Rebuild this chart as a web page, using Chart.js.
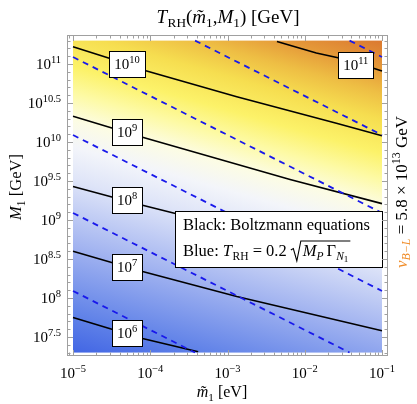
<!DOCTYPE html>
<html><head><meta charset="utf-8">
<script src="https://cdn.jsdelivr.net/npm/chart.js@4/dist/chart.umd.min.js"></script>
<style>html,body{margin:0;padding:0;background:#fff;overflow:hidden}#c{display:block}</style>
</head><body><canvas id="c" width="417" height="404"></canvas>
<script>
// ---------- data (log10 values) ----------
const xLogRange = [-5, -1];          // m1~ [eV]
const yLogRange = [7.3, 11.3];       // M1 [GeV]
const xTickExps = [-5, -4, -3, -2, -1];
const yTickExps = [7.5, 8, 8.5, 9, 9.5, 10, 10.5, 11];
const yTickLabels = ['7.5', '8', '8.5', '9', '9.5', '10', '10.5', '11'];
const contourLevels = [6, 7, 8, 9, 10, 11];

// black contours (Boltzmann equations): [log10 m1~, log10 M1]
const black6  = [[-5, 7.75], [-4.10, 7.48], [-3.38, 7.31]];
const black7  = [[-5, 8.60], [-4.10, 8.34], [-2.88, 8.02], [-1, 7.58]];
const black8  = [[-5, 9.43], [-4.10, 9.19], [-3.70, 9.09], [-2.32, 8.77], [-1, 8.45]];
const black9  = [[-5, 10.33], [-4.10, 10.06], [-2.19, 9.52], [-1, 9.21]];
const black10 = [[-5, 11.22], [-4.52, 11.07], [-4.08, 10.92], [-2.88, 10.58], [-1.59, 10.24], [-1, 10.08]];
const black11 = [[-2.36, 11.29], [-1.85, 11.14], [-1.57, 11.08], [-1.12, 10.95], [-1, 10.91]];
// blue dashed lines T_RH = 0.2 sqrt(M_P Gamma_N1)
const blue6  = [[-5, 8.09], [-3.42, 7.30]];
const blue7  = [[-5, 9.09], [-1.42, 7.30]];
const blue8  = [[-5, 10.09], [-1, 8.09]];
const blue9  = [[-5, 11.09], [-1, 9.09]];
const blue10 = [[-3.42, 11.30], [-1, 10.09]];
const blue11 = [[-1.42, 11.30], [-1, 11.09]];
// contour label anchors
const contourLabelAt = [[-4.30, 7.55], [-4.30, 8.40], [-4.30, 9.26], [-4.30, 10.13], [-4.30, 11.0], [-1.34, 10.99]];
// background (log10 T_RH) colour ramp
const gradLevels = [5.4, 11.5];
const gradAxis = [[-6.04, 7.56], [-4.66, 12.42]];
const colorStops = [
  [5.4, 'rgb(64,100,228)'], [6.0, 'rgb(96,130,232)'], [7.0, 'rgb(160,178,240)'],
  [8.0, 'rgb(222,228,248)'], [8.5, 'rgb(243,245,250)'], [8.9, 'rgb(252,252,228)'],
  [9.3, 'rgb(253,250,165)'], [9.7, 'rgb(252,242,105)'], [10.2, 'rgb(246,222,80)'],
  [10.6, 'rgb(238,190,68)'], [11.0, 'rgb(228,150,56)'], [11.5, 'rgb(216,112,46)']
];

const blackLines = [black6, black7, black8, black9, black10, black11];
const blueLines = [blue6, blue7, blue8, blue9, blue10, blue11];
const toPts = a => a.map(p => ({x: Math.pow(10, p[0]), y: Math.pow(10, p[1])}));

const FAM = '"Liberation Serif","Times New Roman",serif';
function fontFor(r, size) {
  const f = r.s === 1 || r.s === -1 ? 0.7 : (r.s === -2 ? 0.55 : 1);
  return (r.i ? 'italic ' : '') + (size * f).toFixed(1) + 'px ' + FAM;
}
function runsWidth(ctx, runs, size) {
  let w = 0;
  for (const r of runs) { ctx.font = fontFor(r, size); w += ctx.measureText(r.t).width + (r.g || 0); }
  return w;
}
function drawRuns(ctx, runs, x, base, size) {
  for (const r of runs) {
    ctx.font = fontFor(r, size);
    const dy = r.s === -1 ? size * 0.22 : r.s === -2 ? size * 0.38 : r.s === 1 ? -size * 0.4 : 0;
    ctx.fillStyle = r.c || '#000';
    ctx.fillText(r.t, x, base + dy);
    x += ctx.measureText(r.t).width + (r.g || 0);
  }
  return x;
}
function drawCentered(ctx, runs, cx, base, size) {
  const w = runsWidth(ctx, runs, size);
  drawRuns(ctx, runs, cx - w / 2, base, size);
}
function drawRotated(ctx, runs, cx, cy, size) {
  ctx.save();
  ctx.translate(cx, cy);
  ctx.rotate(-Math.PI / 2);
  drawCentered(ctx, runs, 0, size * 0.33, size);
  ctx.restore();
}

const deco = {
  id: 'deco',
  beforeDatasetsDraw(chart) {
    const {ctx, scales: {x, y}} = chart;
    const L = x.getPixelForValue(10 ** xLogRange[0]), R = x.getPixelForValue(10 ** xLogRange[1]);
    const T = y.getPixelForValue(10 ** yLogRange[1]), B = y.getPixelForValue(10 ** yLogRange[0]);
    const g = ctx.createLinearGradient(
      x.getPixelForValue(10 ** gradAxis[0][0]), y.getPixelForValue(10 ** gradAxis[0][1]),
      x.getPixelForValue(10 ** gradAxis[1][0]), y.getPixelForValue(10 ** gradAxis[1][1]));
    for (const [lt, col] of colorStops) g.addColorStop((lt - gradLevels[0]) / (gradLevels[1] - gradLevels[0]), col);
    ctx.save();
    ctx.fillStyle = g;
    ctx.fillRect(L, T, R - L, B - T);
    ctx.restore();
  },
  afterDatasetsDraw(chart) {
    const {ctx, chartArea: ca, scales: {x, y}} = chart;
    ctx.save();
    ctx.textBaseline = 'alphabetic';
    // contour labels
    contourLevels.forEach((lv, i) => {
      const cx = x.getPixelForValue(10 ** contourLabelAt[i][0]);
      const cy = y.getPixelForValue(10 ** contourLabelAt[i][1]);
      const runs = [{t: '10'}, {t: String(lv), s: 1}];
      const w = runsWidth(ctx, runs, 15) + 10, h = 26;
      ctx.fillStyle = '#fff';
      ctx.fillRect(Math.round(cx - w / 2) + 0.5, Math.round(cy - h / 2) + 0.5, Math.round(w), h);
      ctx.strokeStyle = '#000'; ctx.lineWidth = 1;
      ctx.strokeRect(Math.round(cx - w / 2) + 0.5, Math.round(cy - h / 2) + 0.5, Math.round(w), h);
      drawCentered(ctx, runs, cx, cy + 5.3, 15);
    });
    // legend box
    const lx = 175, ly = 211, lw = 207, lh = 56;
    ctx.fillStyle = '#fff';
    ctx.fillRect(lx + 0.5, ly + 0.5, lw, lh);
    ctx.strokeStyle = '#000'; ctx.lineWidth = 1;
    ctx.strokeRect(lx + 0.5, ly + 0.5, lw, lh);
    drawRuns(ctx, [{t: 'Black: Boltzmann equations'}], lx + 8, ly + 19, 16.5);
    let px = drawRuns(ctx, [{t: 'Blue: '}, {t: 'T', i: 1, g: 0.5}, {t: 'RH', s: -1}, {t: ' = 0.2 '}], lx + 8, ly + 45, 16.5);
    const rad = [{t: 'M', i: 1}, {t: 'P', i: 1, s: -1, g: 3}, {t: 'Γ'}, {t: 'N', i: 1, s: -1}, {t: '1', s: -2}];
    const rw = runsWidth(ctx, rad, 16.5);
    const base = ly + 45, top = base - 15;
    ctx.beginPath();
    ctx.lineWidth = 1.1; ctx.strokeStyle = '#000';
    ctx.moveTo(px, base - 6); ctx.lineTo(px + 2.5, base - 7.5);
    ctx.lineTo(px + 6, base + 5); ctx.lineTo(px + 10, top);
    ctx.lineTo(px + 12 + rw + 2, top);
    ctx.stroke();
    drawRuns(ctx, rad, px + 12, base, 16.5);

    // frame + ticks
    ctx.strokeStyle = 'rgb(160,160,160)'; ctx.lineWidth = 1;
    ctx.strokeRect(ca.left + 0.5, ca.top + 0.5, ca.right - ca.left - 1, ca.bottom - ca.top - 1);
    ctx.beginPath();
    for (let k = -6; k <= 0; k++) for (let m = 1; m <= 9; m++) {
      const v = m * 10 ** k;
      if (v < x.min || v > x.max) continue;
      const p = Math.round(x.getPixelForValue(v)) + 0.5, len = m === 1 ? 6 : 3.5;
      ctx.moveTo(p, ca.bottom); ctx.lineTo(p, ca.bottom - len);
      ctx.moveTo(p, ca.top); ctx.lineTo(p, ca.top + len);
    }
    for (let j = 73; j <= 113; j++) {
      const e = j / 10, v = 10 ** e;
      if (v < y.min || v > y.max) continue;
      const p = Math.round(y.getPixelForValue(v)) + 0.5, len = (j % 5 === 0) ? 6 : 3.5;
      ctx.moveTo(ca.left, p); ctx.lineTo(ca.left + len, p);
      ctx.moveTo(ca.right, p); ctx.lineTo(ca.right - len, p);
    }
    ctx.stroke();

    // tick labels
    xTickExps.forEach(e => {
      drawCentered(ctx, [{t: '10'}, {t: '−' + Math.abs(e), s: 1}], x.getPixelForValue(10 ** e), 378, 15);
    });
    yTickExps.forEach((e, i) => {
      const runs = [{t: '10'}, {t: yTickLabels[i], s: 1}];
      const w = runsWidth(ctx, runs, 15);
      drawRuns(ctx, runs, 61 - w, y.getPixelForValue(10 ** e) + 5, 15);
    });
    // titles
    drawCentered(ctx, [{t: 'T', i: 1, g: 0.5}, {t: 'RH', s: -1}, {t: '('}, {t: 'm\u0303', i: 1}, {t: '1', s: -1}, {t: ','},
      {t: 'M', i: 1}, {t: '1', s: -1}, {t: ') [GeV]'}], 228, 23, 19);
    drawCentered(ctx, [{t: 'm\u0303', i: 1}, {t: '1', s: -1}, {t: ' [eV]'}], 222, 397, 16);
    drawRotated(ctx, [{t: 'M', i: 1}, {t: '1', s: -1}, {t: ' [GeV]'}], 16, 187, 16.5);
    const org = 'rgb(240,140,40)';
    drawRotated(ctx, [{t: 'v', i: 1, c: org}, {t: 'B−L', i: 1, s: -1, c: org}, {t: ' = 5.8 × 10'}, {t: '13', s: 1}, {t: ' GeV'}], 401, 192, 17);
    ctx.restore();
  }
};

const datasets = [];
blueLines.forEach(l => datasets.push({data: toPts(l), showLine: true, pointRadius: 0, borderColor: 'rgb(25,25,235)',
  borderWidth: 1.8, borderDash: [6, 5], fill: false}));
blackLines.forEach(l => datasets.push({data: toPts(l), showLine: true, pointRadius: 0, borderColor: '#000',
  borderWidth: 1.6, fill: false, tension: 0}));

new Chart(document.getElementById('c'), {
  type: 'scatter',
  data: {datasets},
  options: {
    responsive: false, animation: false, devicePixelRatio: 1,
    layout: {padding: {left: 67, top: 35, right: 29, bottom: 48}},
    plugins: {legend: {display: false}, tooltip: {enabled: false}},
    scales: {
      x: {type: 'logarithmic', display: false, min: 10 ** (xLogRange[0] - 0.0777), max: 10 ** (xLogRange[1] + 0.0777)},
      y: {type: 'logarithmic', display: false, min: 10 ** (yLogRange[0] - 0.044), max: 10 ** (yLogRange[1] + 0.072)}
    }
  },
  plugins: [deco]
});
</script></body></html>
